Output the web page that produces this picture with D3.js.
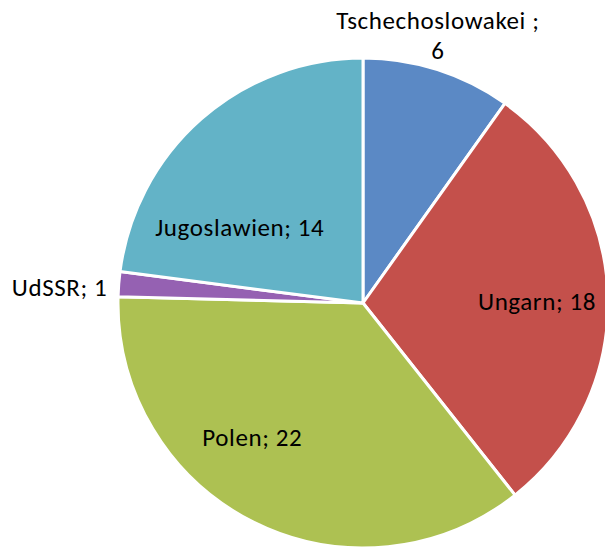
<html><head>
<script src="https://d3js.org/d3.v7.min.js"></script>
<style>
  body { margin: 0; background: #fff; }
  text { font-family: Carlito, Lato, "Liberation Sans", sans-serif; font-size: 25px; letter-spacing: 0.6px; fill: #000; }
</style>
</head>
<body>
<svg id="chart" width="605" height="550"></svg>
<script>
const countries = ["Tschechoslowakei", "Ungarn", "Polen", "UdSSR", "Jugoslawien"];
const values = [6, 18, 22, 1, 14];
const colors = ["#5b89c5", "#c4504b", "#adc152", "#9561b2", "#63b3c7"];
// label placement relative to pie centre (angle in degrees from top, distance in px)
const labelAngle = [15.8, 90.5, 219, 272.9, 300.5];
const labelDist = [275, 174, 176, 256, 143];

const svg = d3.select("#chart");
const cx = 363, cy = 303, r = 245;
const g = svg.append("g").attr("transform", `translate(${cx},${cy})`);

const data = countries.map((c, i) => ({name: c, value: values[i], i: i}));
const pie = d3.pie().value(d => d.value).sort(null);
const arc = d3.arc().innerRadius(0).outerRadius(r);

const arcs = pie(data);
g.selectAll("path").data(arcs).join("path")
  .attr("d", arc)
  .attr("fill", d => colors[d.data.i])
  .attr("stroke", "#fff")
  .attr("stroke-width", 3)
  .attr("stroke-linejoin", "round");

const lbl = g.selectAll("text").data(arcs).join("text")
  .attr("text-anchor", d => d.data.name === "UdSSR" ? "end" : "middle")
  .attr("dominant-baseline", "middle")
  .attr("transform", d => {
    const a = labelAngle[d.data.i] * Math.PI / 180, dist = labelDist[d.data.i];
    return `translate(${dist * Math.sin(a)},${-dist * Math.cos(a)})`;
  });

lbl.each(function(d) {
  const t = d3.select(this);
  if (d.data.name === "Tschechoslowakei") {
    t.append("tspan").attr("x", 0).attr("dy", "-0.6em").text(d.data.name + " ;");
    t.append("tspan").attr("x", 0).attr("dy", "1.2em").text(d.data.value);
  } else {
    t.text(d.data.name + "; " + d.data.value);
  }
});
</script>
</body>
</html>
